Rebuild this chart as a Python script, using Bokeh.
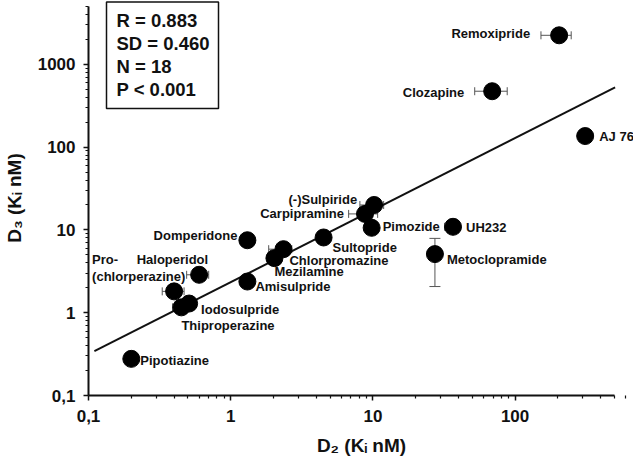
import math
from bokeh.plotting import figure
from bokeh.models import (ColumnDataSource, FixedTicker, CustomJSTickFormatter,
                          Whisker, TeeHead, Range1d)
from bokeh.core.properties import value
from bokeh.embed import file_html
from bokeh.resources import INLINE

# ---------------- data ----------------
drugs = ["Remoxipride", "Clozapine", "AJ 76", "(-)Sulpiride", "Carpipramine",
         "Pimozide", "UH232", "Metoclopramide", "Sultopride", "Chlorpromazine",
         "Mezilamine", "Domperidone", "Amisulpride", "Haloperidol",
         "Pro-\n(chlorperazine)", "Iodosulpride", "Thiproperazine", "Pipotiazine"]
d2_ki = [204, 69, 311, 10.2, 8.8, 9.8, 36.6, 27.3, 4.5, 2.35,
         2.03, 1.31, 1.31, 0.60, 0.40, 0.51, 0.45, 0.20]
d3_ki = [2240, 473, 136, 20, 15.6, 10.6, 10.9, 5.1, 8.1, 5.85,
         4.56, 7.5, 2.38, 2.87, 1.81, 1.29, 1.16, 0.277]

# horizontal (D2) error bars
xerr_drugs = ["Remoxipride", "Clozapine", "(-)Sulpiride", "Carpipramine", "UH232",
              "Chlorpromazine", "Haloperidol", "Pro-\n(chlorperazine)", "Thiproperazine"]
xerr_low = [152, 52, 8.1, 6.75, 32, 1.85, 0.49, 0.33, 0.39]
xerr_high = [248, 88, 11.9, 10.8, 41, 2.69, 0.70, 0.47, 0.52]

# vertical (D3) error bars
yerr_drugs = ["Metoclopramide"]
yerr_low = [2.07]
yerr_high = [7.9]

# regression (log-log)
fit_slope = 0.87
fit_log_intercept = 0.369
fit_x = [0.11, 505]

stats_lines = ["R = 0.883", "SD = 0.460", "N = 18", "P < 0.001"]

x_ticks = [0.1, 1, 10, 100]
y_ticks = [0.1, 1, 10, 100, 1000]
x_axis_bounds = (0.1, 500)
y_axis_bounds = (0.1, 5000)

# ---------------- styles / layout ----------------
FONT = "Liberation Sans"
# (align, dx px, dy px) for each drug label
label_style = [("right", -29, -2), ("right", -28, 1), ("left", 14, 0),
               ("right", -17, -5), ("right", -21, 0), ("left", 11, -1),
               ("left", 13, 1), ("left", 12, 5), ("left", 9, 10),
               ("left", 6, 11), ("left", 0, 13), ("right", -10, -5),
               ("left", 8, 5), ("right", 9, -15), ("left", -82, -23),
               ("left", 12, 6), ("left", 0, 18), ("left", 9, 2)]

PX_DEC_X = 142.2
PX_DEC_Y = 82.8
LEFT = 87
FW = 546
FH = 395
X0 = 0.1
X1 = 10 ** (math.log10(X0) + FW / PX_DEC_X)
Y0 = 0.1
Y1 = 10 ** (math.log10(Y0) + FH / PX_DEC_Y)


def dx(px):  # picture x -> data x
    return 10 ** (math.log10(X0) + (px - LEFT) / PX_DEC_X)


def dy(py):  # picture y (frame top = 0) -> data y
    return 10 ** (math.log10(Y1) - py / PX_DEC_Y)


p = figure(x_axis_type="log", y_axis_type="log",
           x_range=Range1d(X0, X1), y_range=Range1d(Y0, Y1),
           frame_width=FW, frame_height=FH,
           min_border_left=LEFT, min_border_right=0, min_border_top=0, min_border_bottom=60,
           output_backend="svg", toolbar_location=None)
p.outline_line_color = None
p.xgrid.visible = False
p.ygrid.visible = False
p.background_fill_color = "white"

minor = [k * 10 ** d for d in range(-1, 4) for k in range(2, 10)]
p.xaxis.ticker = FixedTicker(ticks=x_ticks, minor_ticks=minor)
p.yaxis.ticker = FixedTicker(ticks=y_ticks, minor_ticks=minor)
p.xaxis.formatter = CustomJSTickFormatter(code="return tick < 0.5 ? '0,1' : tick.toFixed(0);")
p.yaxis.formatter = CustomJSTickFormatter(code="return tick < 0.5 ? '0,1' : tick.toFixed(0);")
p.xaxis.bounds = x_axis_bounds
p.yaxis.bounds = y_axis_bounds

for ax in (p.xaxis, p.yaxis):
    ax.axis_line_width = 2
    ax.axis_line_color = "#111111"
    ax.major_tick_line_color = "#111111"
    ax.minor_tick_line_color = "#111111"
    ax.major_tick_line_width = 1.5
    ax.minor_tick_line_width = 1.2
    ax.major_tick_out = 5
    ax.major_tick_in = 0
    ax.minor_tick_out = 3
    ax.minor_tick_in = 0
    ax.major_label_text_font = FONT
    ax.major_label_text_font_style = "bold"
    ax.major_label_text_font_size = "17px"
    ax.major_label_text_color = "#111111"
    ax.axis_label_text_font = FONT
    ax.axis_label_text_font_style = "bold"
    ax.axis_label_text_font_size = "19px"
    ax.axis_label_text_color = "#111111"

p.xaxis.major_label_standoff = 9
p.yaxis.major_label_standoff = 8
p.xaxis.axis_label = "D₂ (Kᵢ nM)"
p.yaxis.axis_label = "D₃ (Kᵢ nM)"
p.xaxis.axis_label_standoff = 10
p.yaxis.axis_label_standoff = 10

# stats box
p.quad(left=[dx(105)], right=[dx(217)], bottom=[dy(108)], top=[dy(1.5)],
       fill_color=None, line_color="#111111", line_width=1.5)
p.text(x=[dx(115)] * 4, y=[dy(19.5), dy(42.7), dy(65.5), dy(89)], text=stats_lines,
       text_font=value(FONT), text_font_style="bold", text_font_size="18.5px",
       text_color="#111111", text_baseline="middle", text_align="left")

# regression line
fit_y = [10 ** (fit_log_intercept + fit_slope * math.log10(v)) for v in fit_x]
p.line(fit_x, fit_y, line_color="#111111", line_width=2)

# error bars
y_lookup = dict(zip(drugs, d3_ki))
x_lookup = dict(zip(drugs, d2_ki))
xe_src = ColumnDataSource(dict(y=[y_lookup[d] for d in xerr_drugs], lo=xerr_low, hi=xerr_high))
p.add_layout(Whisker(source=xe_src, base="y", lower="lo", upper="hi", dimension="width",
                     line_color="#555555", line_width=1,
                     lower_head=TeeHead(size=8, line_color="#555555", line_width=1),
                     upper_head=TeeHead(size=8, line_color="#555555", line_width=1)))
ye_src = ColumnDataSource(dict(x=[x_lookup[d] for d in yerr_drugs], lo=yerr_low, hi=yerr_high))
p.add_layout(Whisker(source=ye_src, base="x", lower="lo", upper="hi", dimension="height",
                     line_color="#555555", line_width=1,
                     lower_head=TeeHead(size=11, line_color="#555555", line_width=1),
                     upper_head=TeeHead(size=11, line_color="#555555", line_width=1)))

# points
src = ColumnDataSource(dict(x=d2_ki, y=d3_ki, name=drugs,
                            align=[s[0] for s in label_style],
                            ox=[s[1] for s in label_style],
                            oy=[s[2] for s in label_style]))
p.scatter("x", "y", source=src, size=17, fill_color="black", line_color="black")
p.text("x", "y", text="name", source=src, x_offset="ox", y_offset="oy",
       text_align="align", text_baseline="middle",
       text_font=value(FONT), text_font_style="bold", text_font_size="13px",
       text_color="#111111", text_line_height=1.15)

open("out.html", "w").write(file_html(p, INLINE))
